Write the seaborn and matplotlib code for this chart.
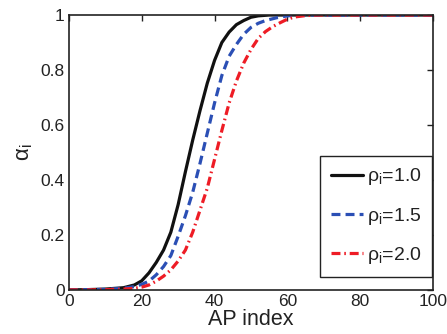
import numpy as np
import pandas as pd
import matplotlib
matplotlib.use("Agg")
import matplotlib.pyplot as plt
import seaborn as sns
from matplotlib.ticker import FuncFormatter

# --- data ---
x_black = [0, 5, 10, 15, 18, 20, 22, 24, 26, 28, 30, 32, 34, 36, 38, 40, 42, 44, 46, 48, 50, 52, 55, 60, 70, 80, 90, 100]
y_black = [0, 0.001, 0.003, 0.008, 0.018, 0.033, 0.062, 0.10, 0.145, 0.21, 0.31, 0.43, 0.545, 0.652, 0.752, 0.835, 0.90, 0.938, 0.965, 0.98, 0.992, 0.997, 1, 1, 1, 1, 1, 1]

x_blue = [0, 5, 10, 15, 18, 20, 22, 24, 26, 28, 30, 32, 34, 36, 38, 40, 42, 44, 46, 48, 50, 52, 54, 57, 60, 63, 70, 80, 90, 100]
y_blue = [0, 0.001, 0.002, 0.006, 0.012, 0.02, 0.032, 0.055, 0.085, 0.125, 0.195, 0.27, 0.355, 0.46, 0.57, 0.68, 0.78, 0.85, 0.893, 0.93, 0.955, 0.97, 0.98, 0.99, 0.997, 1, 1, 1, 1, 1]

x_red = [0, 5, 10, 15, 18, 20, 22, 24, 26, 28, 30, 32, 34, 36, 38, 40, 42, 44, 46, 48, 50, 52, 54, 56, 58, 60, 62, 65, 68, 70, 80, 90, 100]
y_red = [0, 0, 0.001, 0.003, 0.006, 0.01, 0.018, 0.032, 0.05, 0.073, 0.105, 0.145, 0.21, 0.29, 0.37, 0.475, 0.58, 0.68, 0.76, 0.825, 0.875, 0.915, 0.94, 0.958, 0.972, 0.985, 0.993, 0.998, 1, 1, 1, 1, 1]

labels = ['ρ$_\\mathregular{i}$=1.0', 'ρ$_\\mathregular{i}$=1.5', 'ρ$_\\mathregular{i}$=2.0']
x_ticks = [0, 20, 40, 60, 80, 100]
y_ticks = [0, 0.2, 0.4, 0.6, 0.8, 1]

sns.set_style("white")
plt.rcParams['font.family'] = ['Liberation Sans', 'DejaVu Sans']
plt.rcParams['mathtext.fontset'] = 'custom'
plt.rcParams['mathtext.rm'] = 'Liberation Sans'
plt.rcParams['mathtext.it'] = 'Liberation Sans:italic'

fig = plt.figure(figsize=(4.47, 3.34), dpi=100)
ax = fig.add_axes([0.154, 0.132, 0.815, 0.823])

series = [
    (x_black, y_black, labels[0], '#111111', (None, None)),
    (x_blue, y_blue, labels[1], '#2b4fb5', (2.8, 1.6)),
    (x_red, y_red, labels[2], '#ee1c25', (2.8, 1.2, 0.5, 1.2)),
]
for xs, ys, lab, col, dash in series:
    df = pd.DataFrame({'x': xs, 'y': ys})
    sns.lineplot(data=df, x='x', y='y', ax=ax, color=col, linewidth=2.3, label=lab)
    l = ax.get_lines()[-1]
    if dash[0] is not None:
        l.set_dashes(dash)

ax.set_xlim(0, 100)
ax.set_ylim(0, 1)
ax.set_xticks(x_ticks)
ax.set_yticks(y_ticks)
ax.yaxis.set_major_formatter(FuncFormatter(lambda v, p: '%g' % v))
ax.tick_params(direction='in', length=4, width=1, labelsize=12.5, colors='#222222',
               top=True, right=True, labelcolor='#222222', pad=3)
for s in ax.spines.values():
    s.set_visible(True)
    s.set_color('#222222')
    s.set_linewidth(1.2)

ax.set_xlabel('AP index', fontsize=15.5, labelpad=0, color='#222222')
ax.set_ylabel('α$_\\mathregular{i}$', fontsize=16, labelpad=4, color='#222222')

leg = ax.legend(loc='lower right', bbox_to_anchor=(0.997, 0.047), fontsize=14,
                frameon=True, fancybox=False, framealpha=1, edgecolor='#222222',
                handlelength=1.65, borderaxespad=0.0, labelspacing=0.95,
                handletextpad=0.2, borderpad=0.55)
leg.get_frame().set_linewidth(1.0)
for t in leg.get_texts():
    t.set_color('#222222')

fig.savefig('out.png', dpi=100)
